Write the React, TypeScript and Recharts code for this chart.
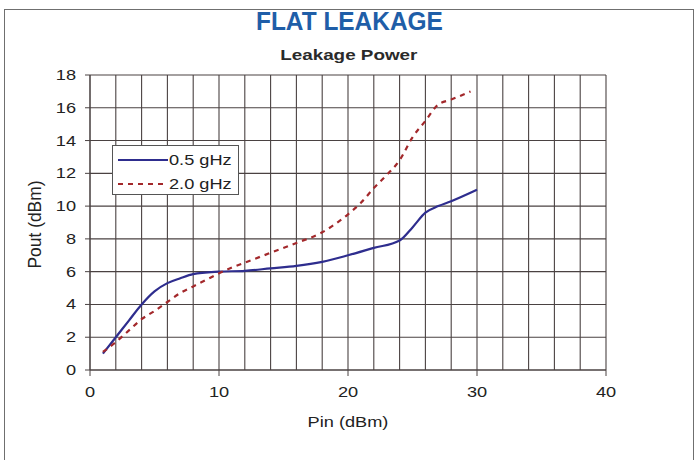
import React from 'react';
import { LineChart, Line, XAxis, YAxis, CartesianGrid, Label } from 'recharts';

// 0.5 gHz series
const pin05 = [1, 2, 3, 4, 5, 6, 7, 8, 10, 12, 14, 16, 18, 20, 22, 24, 25, 26, 27, 28, 30];
const pout05 = [1.0, 2.0, 3.0, 4.0, 4.8, 5.3, 5.6, 5.85, 6.0, 6.05, 6.2, 6.35, 6.6, 7.0, 7.45, 7.9, 8.7, 9.6, 10.0, 10.3, 11.0];

// 2.0 gHz series
const pin20 = [1, 2, 3, 4, 5, 6, 7, 8, 9, 10, 11, 12, 14, 16, 18, 19, 20, 21, 22, 23, 24, 25, 26, 27, 28, 29.5];
const pout20 = [1.1, 1.7, 2.4, 3.1, 3.6, 4.15, 4.7, 5.1, 5.5, 5.9, 6.25, 6.55, 7.15, 7.75, 8.4, 8.9, 9.5, 10.2, 11.1, 11.9, 12.8, 14.2, 15.2, 16.2, 16.5, 17.0];

const xTicks = [0, 10, 20, 30, 40];
const yTicks = [0, 2, 4, 6, 8, 10, 12, 14, 16, 18];
const xGrid = [0, 2, 4, 6, 8, 10, 12, 14, 16, 18, 20, 22, 24, 26, 28, 30, 32, 34, 36, 38, 40];
const yGrid = [0, 1, 2, 3, 4, 5, 6, 7, 8, 9, 10, 11, 12, 13, 14, 15, 16, 17, 18];

const series = [
  { name: '0.5 gHz', x: pin05, y: pout05, color: '#2e2d8e', dash: undefined as string | undefined },
  { name: '2.0 gHz', x: pin20, y: pout20, color: '#a3282b', dash: '5 5' },
];

const FONT = '"Liberation Sans", Arial, sans-serif';
const GRID = '#4a4242';
const INK = '#222';
// the source picture is stretched sideways, so text is widened to match
const STRETCH = 1.3;

const XTick = ({ x, y, payload }: any) => (
  <g transform={`translate(${x},${y + 19})`}>
    <text transform={`scale(${STRETCH},1)`} textAnchor="middle" fill={INK} fontSize={14} fontFamily={FONT}>
      {payload.value}
    </text>
  </g>
);

const YTick = ({ x, y, payload }: any) => (
  <g transform={`translate(${x - 7},${y + 5})`}>
    <text transform={`scale(${STRETCH},1)`} textAnchor="end" fill={INK} fontSize={14} fontFamily={FONT}>
      {payload.value}
    </text>
  </g>
);

const LegendBox = () => (
  <svg width={128} height={51} style={{ position: 'absolute', left: 112, top: 145 }}>
    <rect x={0.5} y={0.5} width={126} height={49} fill="#fff" stroke="#555" />
    {series.map((s, i) => (
      <g key={s.name} transform={`translate(0,${15 + i * 24})`}>
        <line x1={6} y1={0} x2={56} y2={0} stroke={s.color} strokeWidth={2} strokeDasharray={s.dash} />
        <text x={0} y={5} transform={`translate(57,0) scale(${STRETCH},1)`} fill={INK} fontSize={14} fontFamily={FONT}>
          {s.name}
        </text>
      </g>
    ))}
  </svg>
);

export default function App() {
  return (
    <div style={{ position: 'relative', width: 698, height: 460, background: '#fff', overflow: 'hidden' }}>
      <style>{'body{margin:0}'}</style>
      <div style={{ position: 'absolute', left: 4, top: 9, width: 688, height: 470, border: '1px solid #6f6f6f' }} />
      <div style={{ position: 'absolute', top: 6, left: 0, width: 698, textAlign: 'center' }}>
        <span style={{
          display: 'inline-block', transform: 'scaleX(0.94)',
          fontFamily: FONT, fontWeight: 'bold', fontSize: 26, color: '#1f5ea8',
        }}>
          FLAT LEAKAGE
        </span>
      </div>
      <div style={{ position: 'absolute', top: 46, left: 0, width: 698, textAlign: 'center' }}>
        <span style={{
          display: 'inline-block', transform: `scaleX(${STRETCH})`,
          fontFamily: FONT, fontWeight: 'bold', fontSize: 14.5, color: '#2a2a2a',
        }}>
          Leakage Power
        </span>
      </div>
      <LineChart width={698} height={460} margin={{ top: 75, right: 92, bottom: 30, left: 30 }}
        style={{ position: 'absolute', left: 0, top: 0 }}>
        <CartesianGrid stroke={GRID} strokeWidth={1.1} verticalValues={xGrid} horizontalValues={yGrid} />
        <XAxis
          type="number"
          dataKey="x"
          domain={[0, 40]}
          ticks={xTicks}
          height={60}
          tickSize={6}
          stroke={GRID}
          tick={<XTick />}
          allowDuplicatedCategory={false}
        >
          <Label
            content={({ viewBox }: any) => (
              <g transform={`translate(${viewBox.x + viewBox.width / 2},${viewBox.y + 57})`}>
                <text transform={`scale(${STRETCH},1)`} textAnchor="middle" fill={INK} fontSize={14} fontFamily={FONT}>
                  Pin (dBm)
                </text>
              </g>
            )}
          />
        </XAxis>
        <YAxis
          type="number"
          domain={[0, 18]}
          ticks={yTicks}
          width={60}
          tickSize={5}
          stroke={GRID}
          tick={<YTick />}
        >
          <Label
            content={({ viewBox }: any) => (
              <g transform={`translate(${viewBox.x + 5},${viewBox.y + viewBox.height / 2 + 2}) rotate(-90)`}>
                <text transform="scale(1.16,1.25)" textAnchor="middle" dominantBaseline="central"
                  fill={INK} fontSize={15} fontFamily={FONT}>
                  Pout (dBm)
                </text>
              </g>
            )}
          />
        </YAxis>
        {series.map((s) => (
          <Line
            key={s.name}
            name={s.name}
            data={s.x.map((x, i) => ({ x, y: s.y[i] }))}
            dataKey="y"
            type="monotone"
            stroke={s.color}
            strokeWidth={2.2}
            strokeDasharray={s.dash}
            dot={false}
            activeDot={false}
            isAnimationActive={false}
          />
        ))}
      </LineChart>
      <LegendBox />
    </div>
  );
}
